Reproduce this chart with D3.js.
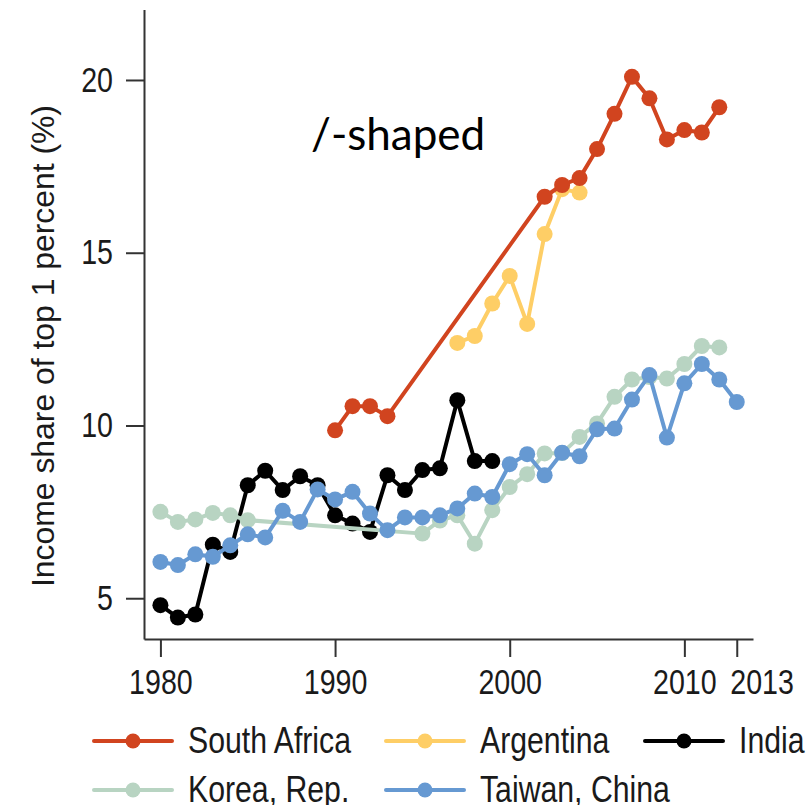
<!DOCTYPE html>
<html>
<head>
<meta charset="utf-8">
<script src="https://cdn.jsdelivr.net/npm/d3@7"></script>
<style>
  body { margin: 0; background: #fff; }
  svg { display: block; }
  .narrow { font-family: "Liberation Sans", Arial, sans-serif; }
</style>
</head>
<body>
<div id="chart"></div>
<script>
// series (years and top 1% income share, %)
var southAfricaYears = [1990, 1991, 1992, 1993, 2002, 2003, 2004, 2005, 2006, 2007, 2008, 2009, 2010, 2011, 2012];
var southAfricaValues = [9.86, 10.56, 10.56, 10.27, 16.62, 16.96, 17.16, 18.0, 19.02, 20.09, 19.47, 18.28, 18.55, 18.48, 19.21];

var argentinaYears = [1997, 1998, 1999, 2000, 2001, 2002, 2003, 2004];
var argentinaValues = [12.39, 12.59, 13.53, 14.33, 12.94, 15.54, 16.84, 16.74];

var indiaYears = [1980, 1981, 1982, 1983, 1984, 1985, 1986, 1987, 1988, 1989, 1990, 1991, 1992, 1993, 1994, 1995, 1996, 1997, 1998, 1999];
var indiaValues = [4.80, 4.44, 4.53, 6.55, 6.34, 8.27, 8.69, 8.13, 8.53, 8.27, 7.40, 7.16, 6.92, 8.56, 8.13, 8.71, 8.76, 10.73, 8.97, 8.97];

var koreaYears = [1980, 1981, 1982, 1983, 1984, 1985, 1995, 1996, 1997, 1998, 1999, 2000, 2001, 2002, 2003, 2004, 2005, 2006, 2007, 2008, 2009, 2010, 2011, 2012];
var koreaValues = [7.50, 7.21, 7.28, 7.47, 7.40, 7.26, 6.87, 7.25, 7.40, 6.58, 7.55, 8.22, 8.59, 9.19, 9.20, 9.67, 10.06, 10.83, 11.33, 11.40, 11.36, 11.78, 12.30, 12.26];

var taiwanYears = [1980, 1981, 1982, 1983, 1984, 1985, 1986, 1987, 1988, 1989, 1990, 1991, 1992, 1993, 1994, 1995, 1996,
  1997, 1998, 1999, 2000, 2001, 2002, 2003, 2004, 2005, 2006, 2007, 2008, 2009, 2010, 2011, 2012, 2013];
var taiwanValues = [6.05, 5.96, 6.27, 6.20, 6.53, 6.85, 6.76, 7.53, 7.21, 8.15, 7.86, 8.08, 7.45, 6.97, 7.34, 7.34, 7.40,
  7.60, 8.03, 7.93, 8.88, 9.17, 8.56, 9.21, 9.11, 9.89, 9.91, 10.75, 11.46, 9.65, 11.22, 11.78, 11.33, 10.68];

var seriesNames = ["South Africa", "Argentina", "India", "Korea, Rep.", "Taiwan, China"];
var xTicks = [1980, 1990, 2000, 2010, 2013];
var yTicks = [5, 10, 15, 20];

var colors = {
  "South Africa": "#d1441f",
  "Argentina": "#fece66",
  "India": "#000000",
  "Korea, Rep.": "#b8d4c2",
  "Taiwan, China": "#6699d2"
};

function zipSeries(name, years, values) {
  return {name: name, points: years.map(function(yr, i) { return {x: yr, y: values[i]}; })};
}

var series = [
  zipSeries("South Africa", southAfricaYears, southAfricaValues),
  zipSeries("Argentina", argentinaYears, argentinaValues),
  zipSeries("India", indiaYears, indiaValues),
  zipSeries("Korea, Rep.", koreaYears, koreaValues),
  zipSeries("Taiwan, China", taiwanYears, taiwanValues)
];
// paint order: Argentina under South Africa, Taiwan on top
var drawOrder = ["Argentina", "South Africa", "India", "Korea, Rep.", "Taiwan, China"];

var width = 808, height = 805;
var svg = d3.select("#chart").append("svg")
    .attr("width", width)
    .attr("height", height);

// squeeze a text horizontally (no condensed face installed)
function condense(sel, factor) {
  sel.each(function() {
    var w = this.getComputedTextLength();
    d3.select(this).attr("textLength", w * factor).attr("lengthAdjust", "spacingAndGlyphs");
  });
}

// scales
var x = d3.scaleLinear()
    .domain([1979.06, 2013.93])
    .range([144, 753]);
var y = d3.scaleLinear()
    .domain([3.82, 22.04])
    .range([639, 9.5]);

// legend first, so its width sets the squeeze factor
var legendPos = [
  {lx: 94, ly: 741},
  {lx: 386, ly: 741},
  {lx: 645, ly: 741},
  {lx: 94, ly: 790},
  {lx: 386, ly: 790}
];

var legend = svg.append("g").selectAll("g")
    .data(seriesNames)
    .enter()
    .append("g")
    .attr("transform", function(d, i) { return "translate(" + legendPos[i].lx + "," + legendPos[i].ly + ")"; });

legend.append("line")
    .attr("x1", 0).attr("x2", 78)
    .attr("y1", 0).attr("y2", 0)
    .attr("stroke", function(d) { return colors[d]; })
    .attr("stroke-width", 4)
    .attr("stroke-linecap", "round");
legend.append("circle")
    .attr("cx", 39).attr("cy", 0).attr("r", 7.5)
    .attr("fill", function(d) { return colors[d]; });
var legendText = legend.append("text")
    .attr("class", "narrow")
    .attr("x", 94)
    .attr("y", 12)
    .attr("font-size", 37)
    .attr("fill", "#1a1a1a")
    .text(function(d) { return d; });

var squeeze = 163 / legendText.filter(function(d) { return d === "South Africa"; }).node().getComputedTextLength();
condense(legendText, squeeze);

// axes
var xAxis = svg.append("g")
    .attr("class", "narrow")
    .attr("transform", "translate(0,639)")
    .call(d3.axisBottom(x).tickValues(xTicks).tickFormat(d3.format("d")).tickSize(18).tickSizeOuter(0).tickPadding(12));
var yAxis = svg.append("g")
    .attr("class", "narrow")
    .attr("transform", "translate(144,0)")
    .call(d3.axisLeft(y).tickValues(yTicks).tickSize(18).tickSizeOuter(0).tickPadding(13));

[xAxis, yAxis].forEach(function(g) {
  g.selectAll("path, line").attr("stroke", "#333").attr("stroke-width", 2);
  g.selectAll("text").attr("fill", "#1a1a1a").attr("font-size", 35);
  condense(g.selectAll("text"), squeeze);
});
// 2013 label sits to the right of its tick, like in the source
xAxis.selectAll(".tick text").filter(function(d) { return d === 2013; })
    .attr("text-anchor", "start").attr("dx", -7);

// y axis title
var yTitle = svg.append("text")
    .attr("class", "narrow")
    .attr("transform", "translate(54,346) rotate(-90)")
    .attr("text-anchor", "middle")
    .attr("font-size", 31)
    .attr("fill", "#1a1a1a")
    .text("Income share of top 1 percent (%)");
yTitle.attr("textLength", 482).attr("lengthAdjust", "spacingAndGlyphs");

// annotation
svg.append("text")
    .attr("x", 311)
    .attr("y", 150)
    .attr("font-family", "Lato, 'Open Sans', sans-serif")
    .attr("font-size", 44)
    .attr("fill", "#000")
    .text("/-shaped");

var line = d3.line()
    .x(function(d) { return x(d.x); })
    .y(function(d) { return y(d.y); });

var ordered = drawOrder.map(function(n) { return series.find(function(s) { return s.name === n; }); });

var groups = svg.append("g").selectAll("g")
    .data(ordered)
    .enter()
    .append("g");

groups.append("path")
    .attr("d", function(d) { return line(d.points); })
    .attr("fill", "none")
    .attr("stroke", function(d) { return colors[d.name]; })
    .attr("stroke-width", 4)
    .attr("stroke-linejoin", "round");

groups.selectAll("circle")
    .data(function(d) { return d.points.map(function(p) { return {name: d.name, x: p.x, y: p.y}; }); })
    .enter()
    .append("circle")
    .attr("cx", function(d) { return x(d.x); })
    .attr("cy", function(d) { return y(d.y); })
    .attr("r", 8)
    .attr("fill", function(d) { return colors[d.name]; });
</script>
</body>
</html>
